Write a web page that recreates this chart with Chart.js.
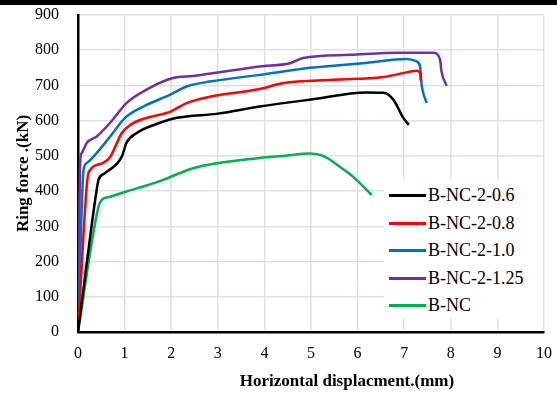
<!DOCTYPE html>
<html>
<head>
<meta charset="utf-8">
<script src="https://cdn.jsdelivr.net/npm/chart.js@4.4.1/dist/chart.umd.min.js"></script>
<style>
    body { margin: 0; background: #fff; }
    #wrap { position: relative; width: 557px; height: 398px; }
    #topBar { position: absolute; left: 0; top: 0; width: 557px; height: 5px; background: #000; }
    #xTitle { position: absolute; left: 197px; top: 371px; width: 300px; text-align: center;
              font: bold 17px "Times New Roman", "Liberation Serif", serif; color: #000; }
    #legend { position: absolute; left: 384px; top: 180px; width: 158px; height: 138px; background: #fff; }
    .item { position: absolute; left: 0; height: 24px; }
    .item span.line { position: absolute; left: 5px; top: 11px; width: 37px; height: 3px; }
    .item span.txt { position: absolute; left: 44px; top: 0; white-space: nowrap;
                     font: 18px "Times New Roman", "Liberation Serif", serif; color: #000; line-height: 24px; }
</style>
</head>
<body>
<div id="wrap">
    <canvas id="ringChart" width="557" height="398"></canvas>
    <div id="topBar"></div>
    <div id="xTitle">Horizontal displacment.(mm)</div>
    <div id="legend"></div>
</div>
<script>
// series names and colours
const seriesNames = ["B-NC-2-0.6", "B-NC-2-0.8", "B-NC-2-1.0", "B-NC-2-1.25", "B-NC"];
const seriesColors = ["#000000", "#ff0000", "#0070c0", "#7030a0", "#00b050"];

// values (displacement mm, force kN)
const x06 = [0, 0.4, 0.44, 0.58, 0.94, 1.04, 1.26, 1.76, 2.12, 3.0, 3.9, 5.0, 6.19, 6.55, 6.77, 6.98, 7.1];
const y06 = [0, 403, 432, 451, 498, 537, 565, 594, 608, 620, 640, 660, 680, 679, 659, 608, 588];

const x08 = [0, 0.2, 0.26, 0.54, 0.69, 0.94, 1.12, 1.47, 1.97, 2.33, 2.83, 3.9, 4.41, 5.48, 6.55, 6.98, 7.27, 7.34, 7.36];
const y08 = [0, 432, 460, 480, 497, 565, 588, 608, 625, 650, 668, 690, 707, 716, 724, 735, 742, 735, 712];

const x10 = [0, 0.12, 0.19, 0.4, 0.69, 1.01, 1.4, 1.97, 2.33, 2.83, 3.9, 4.98, 6.19, 7.05, 7.27, 7.34, 7.37, 7.48];
const y10 = [0, 460, 480, 508, 555, 608, 640, 673, 697, 711, 730, 750, 764, 775, 768, 754, 706, 650];

const x125 = [0, 0.05, 0.08, 0.19, 0.4, 0.69, 1.04, 1.47, 2.04, 2.47, 3.9, 4.55, 4.83, 5.84, 6.91, 7.62, 7.77, 7.8, 7.91];
const y125 = [0, 490, 508, 537, 555, 594, 650, 688, 721, 727, 754, 763, 778, 787, 793, 793, 773, 740, 699];

const xNC = [0, 0.44, 0.51, 0.69, 1.04, 1.4, 1.83, 2.47, 3.9, 4.41, 4.98, 5.26, 5.62, 5.9, 6.3];
const yNC = [0, 356, 375, 384, 399, 413, 432, 465, 494, 500, 507, 500, 469, 441, 389];

const seriesX = [x06, x08, x10, x125, xNC];
const seriesY = [y06, y08, y10, y125, yNC];

const serifFamily = "'Times New Roman', 'Liberation Serif', serif";
const tickFont = { family: serifFamily, size: 16 };

const datasets = seriesNames.map((name, i) => ({
    label: name,
    data: seriesX[i].map((x, j) => ({ x: x, y: seriesY[i][j] })),
    borderColor: seriesColors[i],
    backgroundColor: seriesColors[i],
    borderWidth: 2.5,
    pointRadius: 0,
    showLine: true,
    fill: false,
    cubicInterpolationMode: "monotone"
}));

const ctx = document.getElementById("ringChart").getContext("2d");
new Chart(ctx, {
    type: "scatter",
    data: { datasets: datasets },
    options: {
        responsive: false,
        animation: false,
        layout: { padding: { top: 15, right: 13, left: 0, bottom: 0 } },
        plugins: { legend: { display: false }, tooltip: { enabled: false } },
        scales: {
            x: {
                type: "linear", min: 0, max: 10,
                ticks: { stepSize: 1, color: "#000", font: tickFont, padding: 3 },
                // invisible tick marks give the label gap without widening the layout padding
                grid: { color: "#dde1e8", lineWidth: 1.5, drawTicks: true, tickLength: 9, tickColor: "rgba(0,0,0,0)" },
                border: { color: "#000", width: 2.5 },
                afterFit: s => { s.height = 66; }
            },
            y: {
                min: 0, max: 900,
                ticks: { stepSize: 100, color: "#000", font: tickFont, padding: 3 },
                grid: { color: "#dde1e8", lineWidth: 1.5, drawTicks: true, tickLength: 16, tickColor: "rgba(0,0,0,0)" },
                border: { color: "#000", width: 2.5 },
                title: {
                    display: true, text: "Ring force .(kN)", color: "#000",
                    font: { family: serifFamily, size: 17, weight: "bold" },
                    padding: { top: 13, bottom: 0 }
                },
                afterFit: s => { s.width = 78; }
            }
        }
    }
});

// legend inside the plot
const legendBox = document.getElementById("legend");
seriesNames.forEach((name, i) => {
    const row = document.createElement("div");
    row.className = "item";
    row.style.top = (3 + i * 27.5) + "px";
    row.innerHTML = `<span class="line" style="background:${seriesColors[i]}"></span><span class="txt">${name}</span>`;
    legendBox.appendChild(row);
});
</script>
</body>
</html>
